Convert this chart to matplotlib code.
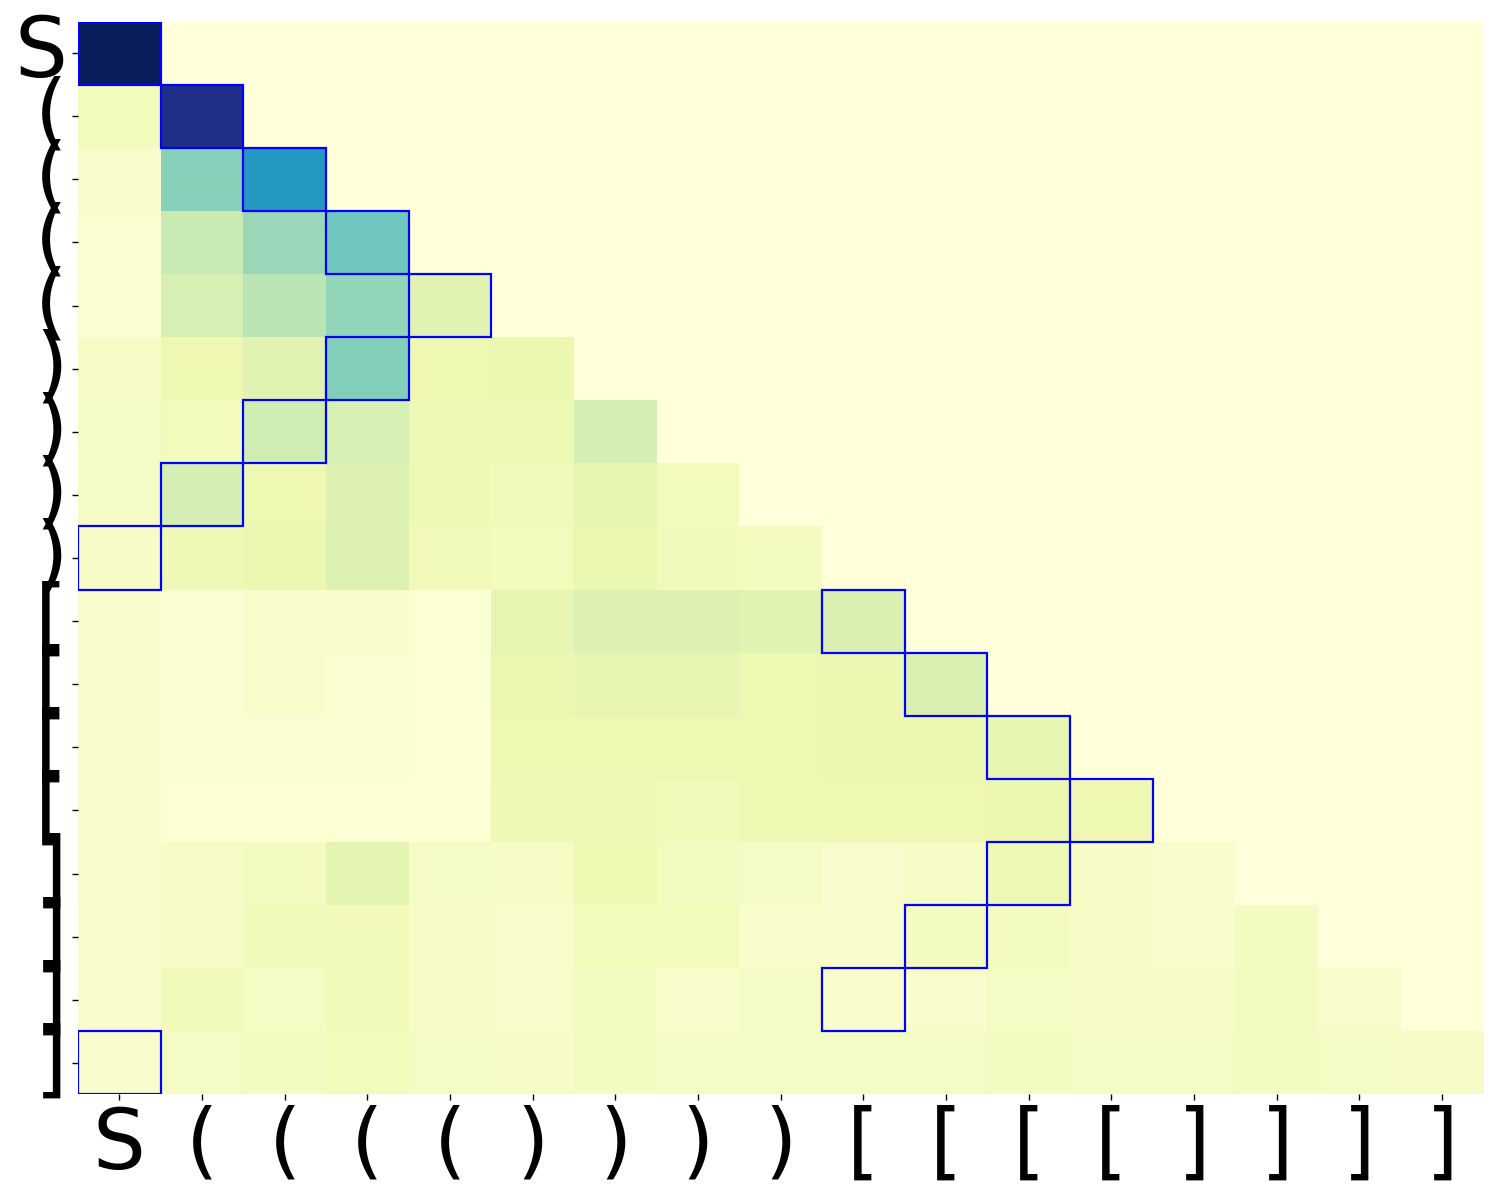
import numpy as np
import matplotlib
matplotlib.use("Agg")
import matplotlib.pyplot as plt
from matplotlib.patches import Rectangle
import seaborn as sns

# tokens of the sequence (rows = query, cols = key)
tokens = ["S", "(", "(", "(", "(", ")", ")", ")", ")", "[", "[", "[", "[", "]", "]", "]", "]"]

# attention weights, lower-triangular rows
rows = [
    [0.99],
    [0.09, 0.90],
    [0.05, 0.36, 0.60],
    [0.03, 0.24, 0.33, 0.41],
    [0.03, 0.20, 0.27, 0.34, 0.17],
    [0.06, 0.12, 0.17, 0.37, 0.12, 0.13],
    [0.07, 0.09, 0.22, 0.20, 0.11, 0.11, 0.21],
    [0.07, 0.21, 0.12, 0.18, 0.11, 0.10, 0.15, 0.09],
    [0.06, 0.11, 0.13, 0.18, 0.10, 0.09, 0.14, 0.10, 0.08],
    [0.05, 0.03, 0.04, 0.04, 0.02, 0.15, 0.18, 0.18, 0.17, 0.19],
    [0.05, 0.03, 0.04, 0.03, 0.02, 0.14, 0.15, 0.15, 0.12, 0.13, 0.19],
    [0.05, 0.03, 0.03, 0.03, 0.02, 0.12, 0.12, 0.12, 0.12, 0.13, 0.13, 0.15],
    [0.05, 0.02, 0.02, 0.02, 0.02, 0.11, 0.11, 0.10, 0.12, 0.12, 0.12, 0.13, 0.12],
    [0.05, 0.06, 0.08, 0.16, 0.07, 0.06, 0.12, 0.08, 0.07, 0.05, 0.06, 0.11, 0.06, 0.04],
    [0.04, 0.06, 0.10, 0.10, 0.06, 0.05, 0.09, 0.09, 0.04, 0.04, 0.08, 0.08, 0.06, 0.05, 0.08],
    [0.04, 0.10, 0.07, 0.10, 0.06, 0.05, 0.08, 0.04, 0.07, 0.04, 0.05, 0.07, 0.06, 0.06, 0.08, 0.05],
    [0.04, 0.07, 0.08, 0.09, 0.07, 0.06, 0.08, 0.07, 0.07, 0.07, 0.07, 0.08, 0.07, 0.07, 0.08, 0.07, 0.06],
]

# highlighted (row, col) cells
highlight_rows = [0, 1, 2, 3, 4, 5, 6, 7, 8, 9, 10, 11, 12, 13, 14, 15, 16]
highlight_cols = [0, 1, 2, 3, 4, 3, 2, 1, 0, 9, 10, 11, 12, 11, 10, 9, 0]

n = len(tokens)
mat = np.zeros((n, n))
for i, r in enumerate(rows):
    mat[i, :len(r)] = r

fig = plt.figure(figsize=(15, 12), dpi=100)
ax = fig.add_axes([0.052, 0.088, 0.937, 0.894])
sns.heatmap(mat, cmap="YlGnBu", vmin=0, vmax=1, cbar=False, ax=ax,
            xticklabels=tokens, yticklabels=tokens)

for r, c in zip(highlight_rows, highlight_cols):
    ax.add_patch(Rectangle((c, r), 1, 1, fill=False, edgecolor="blue", lw=1.6))

ax.tick_params(axis="both", labelsize=60, length=4, width=1)
plt.setp(ax.get_yticklabels(), rotation=0)
plt.setp(ax.get_xticklabels(), rotation=0)

fig.savefig("out.png", dpi=100)
